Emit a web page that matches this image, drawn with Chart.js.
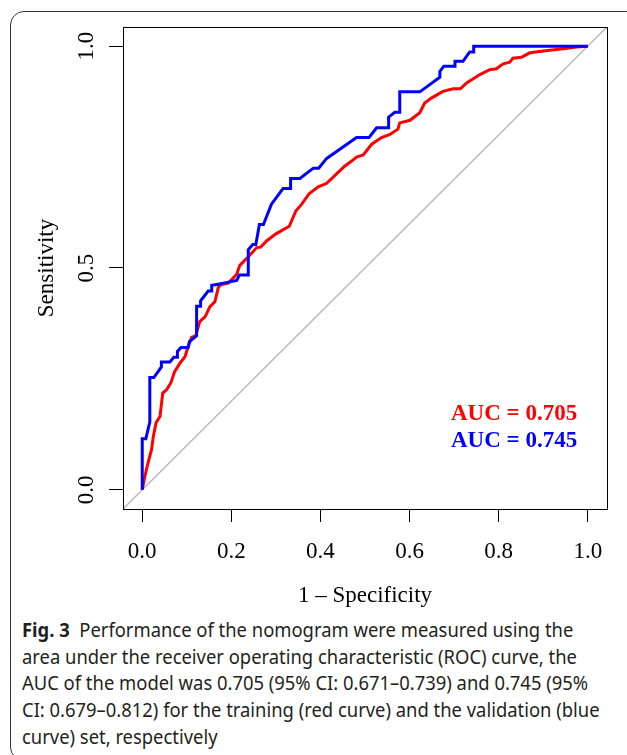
<!DOCTYPE html>
<html>
<head>
<meta charset="utf-8">
<script src="https://cdn.jsdelivr.net/npm/chart.js@4.4.1/dist/chart.umd.min.js"></script>
<style>
	html, body { margin:0; padding:0; background:#fff; }
	body { width:627px; height:755px; position:relative; overflow:hidden; }
	#frame { position:absolute; left:10px; top:11px; width:630px; height:750px; border:1px solid #333; border-radius:14px; box-sizing:border-box; }
	#wrap { position:absolute; left:0; top:0; width:627px; height:615px; }
	.auc { position:absolute; left:451px; font:bold 23px "Liberation Serif", "Times New Roman", serif; line-height:26px; white-space:nowrap; }
	#caption { position:absolute; left:22px; top:617px; width:660px; font:20px "Noto Sans", sans-serif; line-height:26.7px; color:#231f20; white-space:nowrap; transform:scaleX(0.92); transform-origin:0 0; }
</style>
</head>
<body>
<div id="frame"></div>
<div id="wrap"><canvas id="roc"></canvas></div>
<div class="auc" style="top:400px;color:#ff0000">AUC = 0.705</div>
<div class="auc" style="top:427px;color:#0000ff">AUC = 0.745</div>
<div id="caption"><b>Fig. 3</b>&nbsp; Performance of the nomogram were measured using the<br>area under the receiver operating characteristic (ROC) curve, the<br>AUC of the model was 0.705 (95% CI: 0.671–0.739) and 0.745 (95%<br>CI: 0.679–0.812) for the training (red curve) and the validation (blue<br>curve) set, respectively</div>
<script>
// tick labels
const xTicks = [0, 0.2, 0.4, 0.6, 0.8, 1.0];
const yTicks = [0, 0.5, 1.0];

// validation set (blue) - 1-specificity / sensitivity
const blueX = [0, 0, 0.008, 0.017, 0.017, 0.026, 0.043, 0.043, 0.062, 0.071, 0.079, 0.079, 0.087, 0.103, 0.106, 0.122, 0.122, 0.131, 0.131, 0.148, 0.156, 0.156, 0.167, 0.188, 0.212, 0.218, 0.238, 0.238, 0.248, 0.255, 0.263, 0.272, 0.290, 0.316, 0.333, 0.333, 0.354, 0.384, 0.396, 0.414, 0.481, 0.509, 0.526, 0.553, 0.553, 0.567, 0.578, 0.578, 0.623, 0.668, 0.668, 0.677, 0.702, 0.702, 0.720, 0.735, 0.744, 0.744, 1.0];
const blueY = [0, 0.115, 0.115, 0.153, 0.253, 0.253, 0.277, 0.288, 0.288, 0.299, 0.299, 0.312, 0.321, 0.321, 0.334, 0.347, 0.414, 0.414, 0.426, 0.448, 0.448, 0.461, 0.463, 0.467, 0.472, 0.484, 0.484, 0.541, 0.553, 0.553, 0.598, 0.598, 0.644, 0.679, 0.679, 0.702, 0.702, 0.725, 0.725, 0.747, 0.794, 0.794, 0.816, 0.816, 0.840, 0.851, 0.851, 0.897, 0.897, 0.930, 0.943, 0.955, 0.955, 0.966, 0.966, 0.987, 0.987, 1.0, 1.0];

// training set (red)
const redX = [0, 0.006, 0.013, 0.021, 0.025, 0.031, 0.040, 0.046, 0.055, 0.064, 0.073, 0.085, 0.096, 0.103, 0.111, 0.120, 0.129, 0.141, 0.152, 0.163, 0.171, 0.178, 0.193, 0.212, 0.219, 0.234, 0.257, 0.266, 0.279, 0.300, 0.330, 0.345, 0.358, 0.375, 0.395, 0.414, 0.436, 0.455, 0.470, 0.481, 0.496, 0.515, 0.537, 0.556, 0.574, 0.578, 0.601, 0.623, 0.634, 0.649, 0.675, 0.698, 0.714, 0.728, 0.758, 0.780, 0.795, 0.810, 0.825, 0.832, 0.851, 0.870, 0.892, 0.915, 0.945, 0.975, 1.0];
const redY = [0, 0.031, 0.061, 0.091, 0.121, 0.151, 0.166, 0.218, 0.226, 0.241, 0.267, 0.286, 0.300, 0.323, 0.344, 0.347, 0.379, 0.390, 0.413, 0.424, 0.457, 0.463, 0.466, 0.486, 0.506, 0.521, 0.546, 0.547, 0.561, 0.577, 0.594, 0.629, 0.644, 0.668, 0.683, 0.691, 0.712, 0.730, 0.741, 0.750, 0.755, 0.779, 0.794, 0.801, 0.813, 0.827, 0.833, 0.850, 0.872, 0.883, 0.898, 0.904, 0.904, 0.917, 0.936, 0.947, 0.949, 0.960, 0.964, 0.973, 0.975, 0.985, 0.988, 0.991, 0.994, 0.998, 1.0];

// reference diagonal
const diagX = [-0.1, 1.1];
const diagY = [-0.1, 1.1];

const pts = (xs, ys) => xs.map((x, i) => ({ x: x, y: ys[i] }));
const serif = '"Liberation Serif", "Times New Roman", serif';

// box around plot area, like R's box()
const boxPlugin = {
	id: 'box',
	afterDraw(chart){
		const a = chart.chartArea, ctx = chart.ctx;
		ctx.save();
		ctx.strokeStyle = '#000';
		ctx.lineWidth = 1;
		ctx.strokeRect(Math.round(a.left) + 0.5, Math.round(a.top) + 0.5, Math.round(a.right - a.left), Math.round(a.bottom - a.top));
		ctx.restore();
	}
};

new Chart(document.getElementById('roc'), {
	type: 'scatter',
	data: {
		datasets: [
			{ label: 'Validation', data: pts(blueX, blueY), showLine: true, borderColor: '#0000ff', borderWidth: 3, pointRadius: 0, tension: 0 },
			{ label: 'Training', data: pts(redX, redY), showLine: true, borderColor: '#ff0000', borderWidth: 3, pointRadius: 0, tension: 0 },
			{ label: 'Chance', data: pts(diagX, diagY), showLine: true, borderColor: '#bababa', borderWidth: 1.5, pointRadius: 0 }
		]
	},
	options: {
		responsive: true,
		maintainAspectRatio: false,
		animation: false,
		layout: { padding: { left: 0, top: 27, right: 20, bottom: 0 } },
		plugins: { legend: { display: false }, tooltip: { enabled: false } },
		scales: {
			x: {
				type: 'linear', min: -0.0432, max: 1.0432,
				afterBuildTicks: s => { s.ticks = xTicks.map(v => ({ value: v })); },
				afterFit: s => { s.height = 106; },
				grid: { drawOnChartArea: false, drawTicks: true, tickLength: 13, color: '#000', lineWidth: 1 },
				border: { display: true, color: '#000', width: 1 },
				ticks: { color: '#000', font: { family: serif, size: 23 }, padding: 16, maxRotation: 0, callback: v => Number(v).toFixed(1) },
				title: { display: true, text: '1 \u2013 Specificity', color: '#000', font: { family: serif, size: 23 }, padding: { top: 0, bottom: 5 } }
			},
			y: {
				type: 'linear', min: -0.0432, max: 1.0432,
				afterBuildTicks: s => { s.ticks = yTicks.map(v => ({ value: v })); },
				afterFit: s => { s.width = 123; },
				grid: { drawOnChartArea: false, drawTicks: true, tickLength: 14, color: '#000', lineWidth: 1 },
				border: { display: true, color: '#000', width: 1 },
				ticks: { color: '#000', font: { family: serif, size: 23 }, padding: 8, minRotation: 90, maxRotation: 90, crossAlign: 'center', callback: v => Number(v).toFixed(1) },
				title: { display: true, text: 'Sensitivity', color: '#000', font: { family: serif, size: 23 }, padding: { top: 33, bottom: 0 } }
			}
		}
	},
	plugins: [boxPlugin]
});
</script>
</body>
</html>
